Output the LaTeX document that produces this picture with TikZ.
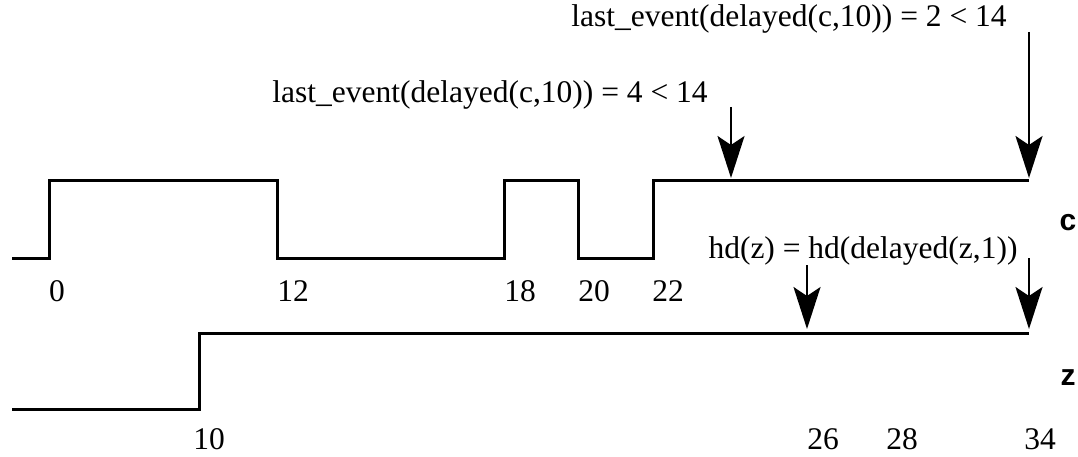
\documentclass[tikz,border=0pt]{standalone}
\usepackage{fontspec}
\setmainfont{Liberation Serif}
\newfontfamily\lblfont{Liberation Sans}
\usetikzlibrary{arrows.meta}
\begin{document}
\begin{tikzpicture}[x=1pt,y=-1pt,
  signal/.style={line width=3pt,line join=miter,line cap=butt},
  marker/.style={line width=2.2pt,-{Stealth[length=42pt,width=27pt,inset=9pt]}},
  txt/.style={inner sep=0pt,anchor=base,font=\fontsize{31.5}{36}\selectfont},
  num/.style={inner sep=0pt,anchor=base,font=\fontsize{31.5}{36}\selectfont},
  sig/.style={inner sep=0pt,font=\lblfont\bfseries\fontsize{30}{34}\selectfont}]
\useasboundingbox (0,0) rectangle (1078,457);
% signal c
\draw[signal] (12,258) -- (49,258) -- (49,181) -- (277,181) -- (277,258)
  -- (504,258) -- (504,181) -- (578,181) -- (578,258) -- (653,258)
  -- (653,181) -- (1029,181);
% signal z
\draw[signal] (12,409) -- (199,409) -- (199,333) -- (1029,333);
% time labels
\node[num] (t0)  at (57,301)  {0};
\node[num] (t12) at (293,301) {12};
\node[num] (t18) at (520,301) {18};
\node[num] (t20) at (594,301) {20};
\node[num] (t22) at (668,301) {22};
\node[num] (t10) at (209,449) {10};
\node[num] (t26) at (823,449) {26};
\node[num] (t28) at (902,449) {28};
\node[num] (t34) at (1040,449) {34};
% signal names
\node[sig] (lc) at (1068,223) {c};
\node[sig] (lz) at (1068,378) {z};
% annotations
\node[txt] (a1) at (789,27)  {last\_event(delayed(c,10)) = 2 < 14};
\node[txt] (a2) at (490,103) {last\_event(delayed(c,10)) = 4 < 14};
\node[txt] (a3) at (863,258) {hd(z) = hd(delayed(z,1))};
% arrows
\coordinate (s1) at (731,107); \coordinate (e1) at (731,178);
\coordinate (s2) at (1029,32); \coordinate (e2) at (1029,178);
\coordinate (s3) at (807,265); \coordinate (e3) at (807,329);
\coordinate (s4) at (1029,258); \coordinate (e4) at (1029,329);
\draw[marker] (s1) -- (e1);
\draw[marker] (s2) -- (e2);
\draw[marker] (s3) -- (e3);
\draw[marker] (s4) -- (e4);
\end{tikzpicture}
\end{document}
